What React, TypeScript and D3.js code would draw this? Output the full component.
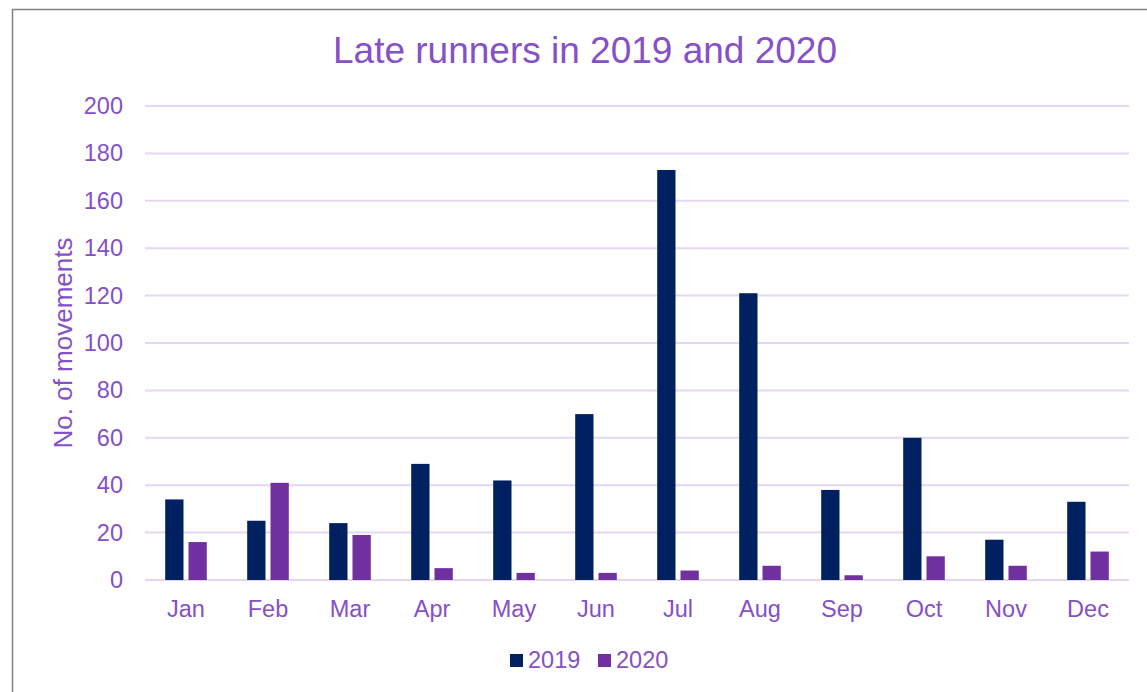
import React from "react";
import * as d3 from "d3";

const months = ["Jan", "Feb", "Mar", "Apr", "May", "Jun", "Jul", "Aug", "Sep", "Oct", "Nov", "Dec"];
const series = ["2019", "2020"];
const values2019 = [34, 25, 24, 49, 42, 70, 173, 121, 38, 60, 17, 33];
const values2020 = [16, 41, 19, 5, 3, 3, 4, 6, 2, 10, 6, 12];
const yTicks = [0, 20, 40, 60, 80, 100, 120, 140, 160, 180, 200];

const colors = ["#002060", "#7030A0"];
const textColor = "#8550c8";
const gridColor = "#e6d6f4";
const font = "'Liberation Sans', Arial, sans-serif";

const App = () => {
  const width = 1147;
  const height = 692;
  const left = 145;
  const right = 1129;
  const top = 106;
  const bottom = 580;

  const x = d3.scaleBand().domain(months).range([left, right]);
  const xInner = d3
    .scaleBand()
    .domain(series)
    .range([0, x.bandwidth()])
    .paddingInner(0.215)
    .paddingOuter(0.867);
  const y = d3.scaleLinear().domain([0, 200]).range([bottom, top]);

  const data = [values2019, values2020];

  return (
    <svg width={width} height={height} style={{ display: "block" }}>
      <style>{"body{margin:0}"}</style>
      <rect x={0} y={0} width={width} height={height} fill="white" />
      <rect
        x={12.5}
        y={9.5}
        width={width + 20}
        height={height + 20}
        fill="none"
        stroke="#808080"
        strokeWidth={1.5}
      />
      <text
        x={585}
        y={63}
        textAnchor="middle"
        fontFamily={font}
        fontSize={37}
        fill={textColor}
      >
        Late runners in 2019 and 2020
      </text>

      {yTicks.map((t) => (
        <g key={t}>
          <line x1={left} x2={right} y1={y(t)} y2={y(t)} stroke={gridColor} strokeWidth={2} />
          <text
            x={123}
            y={y(t) + 8}
            textAnchor="end"
            fontFamily={font}
            fontSize={23.5}
            fill={textColor}
          >
            {t}
          </text>
        </g>
      ))}

      <text
        transform={`translate(72 ${(top + bottom) / 2}) rotate(-90)`}
        textAnchor="middle"
        fontFamily={font}
        fontSize={26}
        fill={textColor}
      >
        No. of movements
      </text>

      {data.map((vals, si) =>
        vals.map((v, i) => (
          <rect
            key={`${si}-${i}`}
            x={(x(months[i]) as number) + (xInner(series[si]) as number)}
            y={y(v)}
            width={xInner.bandwidth()}
            height={y(0) - y(v)}
            fill={colors[si]}
          />
        ))
      )}

      {months.map((m) => (
        <text
          key={m}
          x={(x(m) as number) + x.bandwidth() / 2}
          y={617}
          textAnchor="middle"
          fontFamily={font}
          fontSize={23.5}
          fill={textColor}
        >
          {m}
        </text>
      ))}

      {series.map((s, i) => {
        const lx = 510 + i * 88;
        return (
          <g key={s}>
            <rect x={lx} y={654} width={13} height={13} fill={colors[i]} />
            <text x={lx + 18} y={668} fontFamily={font} fontSize={23.5} fill={textColor}>
              {s}
            </text>
          </g>
        );
      })}
    </svg>
  );
};

export default App;
